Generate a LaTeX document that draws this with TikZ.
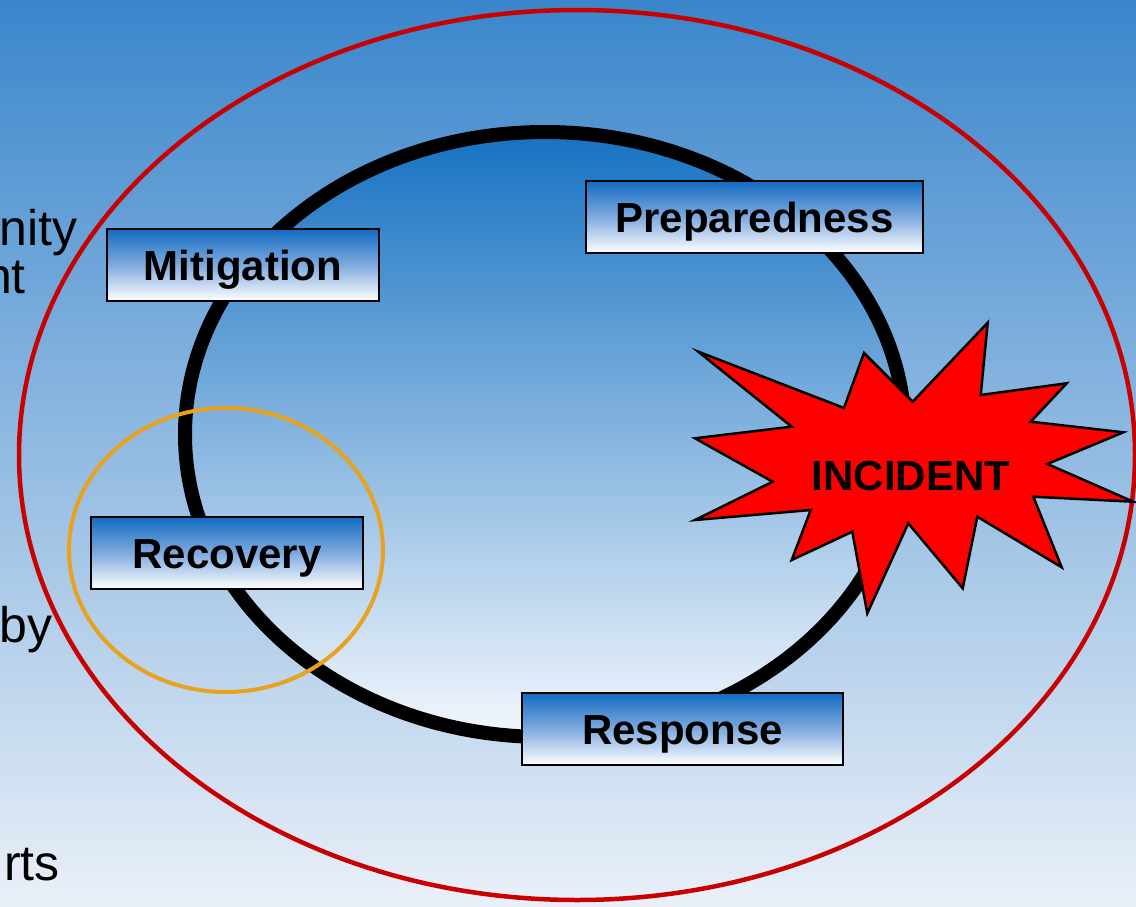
\documentclass[tikz,border=0pt]{standalone}
\usepackage{fontspec}
\setmainfont{Liberation Sans}
\definecolor{bgtop}{RGB}{58,134,204}
\definecolor{bgmid}{RGB}{143,179,224}
\definecolor{bgbot}{RGB}{234,240,248}
\definecolor{intop}{RGB}{22,114,194}
\definecolor{inmid}{RGB}{160,192,230}
\definecolor{inbot}{RGB}{244,247,253}
\definecolor{boxtop}{RGB}{18,108,194}
\definecolor{boxmid}{RGB}{128,170,222}
\definecolor{redring}{RGB}{200,0,0}
\definecolor{orangering}{RGB}{232,162,30}
\tikzset{
  phase/.style={draw=black, line width=2pt, top color=boxtop, bottom color=white, middle color=boxmid,
    inner sep=0pt, anchor=north west, text height=30pt, text depth=0pt,
    font=\fontsize{42}{50}\selectfont\bfseries},
  bgtext/.style={anchor=base east, inner sep=0pt, font=\fontsize{50}{60}\selectfont}
}
\begin{document}
\begin{tikzpicture}[x=1pt,y=-1pt]
\useasboundingbox (0,0) rectangle (1136,907);
\fill[top color=bgtop, middle color=bgmid, bottom color=bgbot] (0,0) rectangle (1136,907);
% background text fragments
\node[bgtext] (t1) at (78,245) {nity};
\node[bgtext] (t2) at (26,293) {nt};
\node[bgtext] (t3) at (53,642) {by};
\node[bgtext] (t4) at (60,880) {rts};
% inner cycle
\shade[top color=intop, middle color=inmid, bottom color=inbot] (545,434.5) ellipse [x radius=360, y radius=302.5];
\draw[line width=14pt] (545,434.5) ellipse [x radius=360, y radius=302.5];
% orange ring
\draw[orangering, line width=4pt] (226,550) ellipse [x radius=157, y radius=142];
% red ring
\draw[redring, line width=4.5pt] (577,455) ellipse [x radius=558, y radius=445];
% boxes
\node[phase, minimum width=272pt, minimum height=72pt] (mit) at (106,228) {Mitigation};
\node[phase, minimum width=337pt, minimum height=72pt] (prep) at (585,180) {Preparedness};
\node[phase, minimum width=272pt, minimum height=72pt] (rec) at (90,516) {Recovery};
\node[phase, minimum width=321pt, minimum height=72pt] (resp) at (521,692) {Response};
% incident starburst
\filldraw[fill=red, draw=black, line width=2.5pt, line join=miter]
 (698.3,351.7) -- (844,408) -- (864,353) -- (912.7,401.7) -- (987.7,322.7) -- (980.7,395)
 -- (1066.7,383.3) -- (1030.7,421.7) -- (1123.3,432.3) -- (1047.3,464) -- (1133.3,501.7)
 -- (1033.3,496.7) -- (1061.7,567.3) -- (977.3,516.7) -- (962.7,588.3) -- (908.3,523.3)
 -- (867.3,613.3) -- (852.3,531.7) -- (791.7,560) -- (810.7,510) -- (695,520)
 -- (772.7,481.7) -- (695,438.3) -- (791.7,426.7) -- cycle;
\node[inner sep=0pt, text height=30pt, text depth=0pt, font=\fontsize{42}{50}\selectfont\bfseries] (inc) at (911,475) {INCIDENT};
\end{tikzpicture}
\end{document}
